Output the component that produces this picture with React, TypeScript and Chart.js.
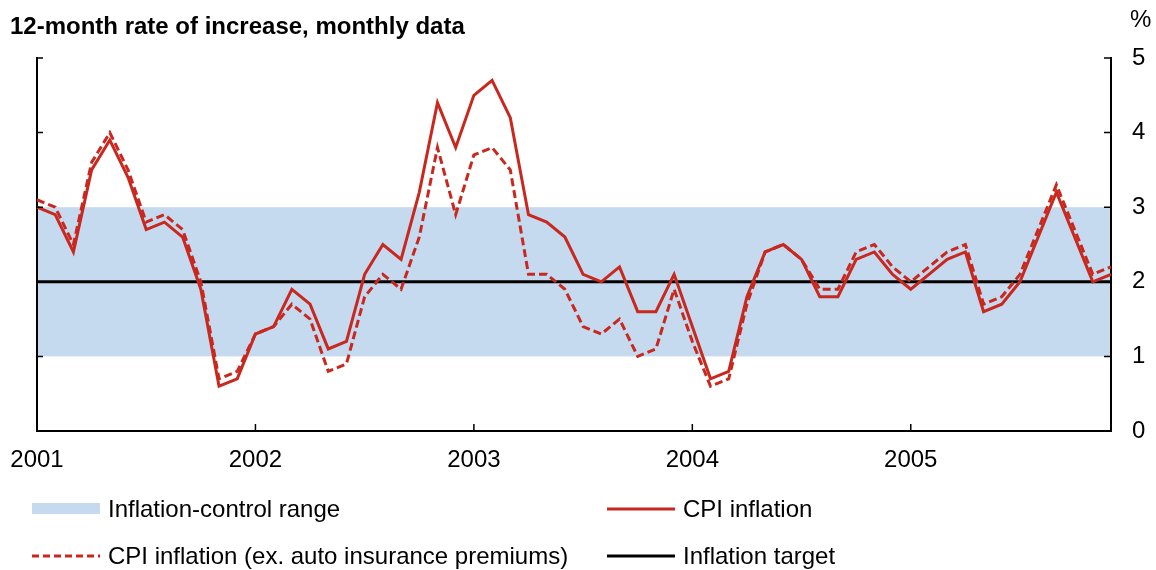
import React, { useEffect, useRef } from 'react';
import { Chart, registerables } from 'chart.js';

Chart.register(...registerables);

// ---------- data ----------
const YEARS = ['2001', '2002', '2003', '2004', '2005'];
const MONTHS = ['01', '02', '03', '04', '05', '06', '07', '08', '09', '10', '11', '12'];

// CPI inflation, 12-month rate, Jan 2001 - Dec 2005
const CPI = [
  3.0, 2.9, 2.4, 3.5, 3.9, 3.4, 2.7, 2.8, 2.6, 1.9, 0.6, 0.7,
  1.3, 1.4, 1.9, 1.7, 1.1, 1.2, 2.1, 2.5, 2.3, 3.2, 4.4, 3.8,
  4.5, 4.7, 4.2, 2.9, 2.8, 2.6, 2.1, 2.0, 2.2, 1.6, 1.6, 2.1,
  1.4, 0.7, 0.8, 1.8, 2.4, 2.5, 2.3, 1.8, 1.8, 2.3, 2.4, 2.1,
  1.9, 2.1, 2.3, 2.4, 1.6, 1.7, 2.0, 2.6, 3.2, 2.6, 2.0, 2.1,
];

// CPI inflation excluding auto insurance premiums
const CPI_EX_AUTO = [
  3.1, 3.0, 2.5, 3.6, 4.0, 3.5, 2.8, 2.9, 2.7, 2.0, 0.7, 0.8,
  1.3, 1.4, 1.7, 1.5, 0.8, 0.9, 1.8, 2.1, 1.9, 2.6, 3.8, 2.9,
  3.7, 3.8, 3.5, 2.1, 2.1, 1.9, 1.4, 1.3, 1.5, 1.0, 1.1, 1.9,
  1.2, 0.6, 0.7, 1.7, 2.4, 2.5, 2.3, 1.9, 1.9, 2.4, 2.5, 2.2,
  2.0, 2.2, 2.4, 2.5, 1.7, 1.8, 2.1, 2.7, 3.3, 2.7, 2.1, 2.2,
];

const Y_MIN = 0;
const Y_MAX = 5;
const BAND_LOW = 1;
const BAND_HIGH = 3;
const TARGET = 2;

const TITLE = '12-month rate of increase, monthly data';
const UNIT = '%';
const LEGEND_BAND = 'Inflation-control range';
const LEGEND_CPI = 'CPI inflation';
const LEGEND_CPI_EX = 'CPI inflation (ex. auto insurance premiums)';
const LEGEND_TARGET = 'Inflation target';

// ---------- styles ----------
const RED = '#C8281E';
const BLUE = '#C5D9EF';
const BLACK = '#000000';
const FONT = '"Liberation Sans", Arial, Helvetica, sans-serif';

const W = 1156;
const H = 570;

const decorPlugin = {
  id: 'decor',
  beforeDraw(chart: any) {
    const { ctx, chartArea } = chart;
    const y = chart.scales.y;
    const top = y.getPixelForValue(BAND_HIGH);
    const bot = y.getPixelForValue(BAND_LOW);
    ctx.save();
    ctx.fillStyle = BLUE;
    ctx.fillRect(chartArea.left, top, chartArea.right - chartArea.left, bot - top);
    ctx.restore();
  },
  beforeDatasetsDraw(chart: any) {
    const { ctx, chartArea } = chart;
    const y = chart.scales.y;
    const py = y.getPixelForValue(TARGET);
    ctx.save();
    ctx.strokeStyle = BLACK;
    ctx.lineWidth = 3;
    ctx.beginPath();
    ctx.moveTo(chartArea.left, py);
    ctx.lineTo(chartArea.right, py);
    ctx.stroke();
    ctx.restore();
  },
  afterDraw(chart: any) {
    const { ctx, chartArea } = chart;
    const x = chart.scales.x;
    const y = chart.scales.y;
    ctx.save();
    ctx.strokeStyle = BLACK;
    ctx.lineWidth = 1.5;
    ctx.beginPath();
    const labels: string[] = chart.data.labels;
    labels.forEach((l, i) => {
      if (l.endsWith('-01')) {
        const px = x.getPixelForValue(i);
        ctx.moveTo(px, chartArea.bottom);
        ctx.lineTo(px, chartArea.bottom - 7);
      }
    });
    for (let v = Y_MIN; v <= Y_MAX; v++) {
      const py = y.getPixelForValue(v);
      ctx.moveTo(chartArea.left, py);
      ctx.lineTo(chartArea.left + 6, py);
      ctx.moveTo(chartArea.right, py);
      ctx.lineTo(chartArea.right - 7, py);
    }
    ctx.stroke();
    ctx.restore();
  },
};

function ChartCanvas() {
  const ref = useRef<HTMLCanvasElement | null>(null);
  useEffect(() => {
    if (!ref.current) return;
    const labels = YEARS.flatMap((yr) => MONTHS.map((m) => `${yr}-${m}`));
    const chart = new Chart(ref.current, {
      type: 'line',
      data: {
        labels,
        datasets: [
          {
            label: LEGEND_CPI,
            data: CPI,
            borderColor: RED,
            borderWidth: 3,
            pointRadius: 0,
            tension: 0,
            fill: false,
            yAxisID: 'y',
          },
          {
            label: LEGEND_CPI_EX,
            data: CPI_EX_AUTO,
            borderColor: RED,
            borderWidth: 3,
            borderDash: [8, 4],
            pointRadius: 0,
            tension: 0,
            fill: false,
            yAxisID: 'y',
          },
        ],
      },
      options: {
        animation: false,
        responsive: false,
        maintainAspectRatio: false,
        devicePixelRatio: 1,
        layout: { padding: { top: 58, left: 0, right: 0, bottom: 0 } },
        plugins: {
          legend: { display: false },
          title: { display: false },
          tooltip: { enabled: false },
        },
        scales: {
          x: {
            type: 'category',
            position: 'bottom',
            offset: false,
            grid: { display: false, drawTicks: false },
            border: { display: true, color: BLACK, width: 2 },
            ticks: {
              autoSkip: false,
              maxRotation: 0,
              minRotation: 0,
              padding: 15,
              color: BLACK,
              font: { family: FONT, size: 24 },
              callback: function (this: any, value: any) {
                const l = this.getLabelForValue(value) as string;
                return l.endsWith('-01') ? l.slice(0, 4) : '';
              },
            },
            afterFit: (s: any) => {
              s.height = H - 431;
              s.paddingLeft = 0;
              s.paddingRight = 0;
            },
          },
          yl: {
            type: 'linear',
            position: 'left',
            min: Y_MIN,
            max: Y_MAX,
            grid: { display: false, drawTicks: false },
            border: { display: true, color: BLACK, width: 2 },
            ticks: { display: false, stepSize: 1 },
            afterFit: (s: any) => {
              s.width = 37;
            },
          },
          y: {
            type: 'linear',
            position: 'right',
            min: Y_MIN,
            max: Y_MAX,
            grid: { display: false, drawTicks: false },
            border: { display: true, color: BLACK, width: 2 },
            ticks: {
              stepSize: 1,
              padding: 21,
              color: BLACK,
              font: { family: FONT, size: 24 },
            },
            afterFit: (s: any) => {
              s.width = W - 1111;
            },
          },
        },
      },
      plugins: [decorPlugin],
    } as any);
    return () => chart.destroy();
  }, []);
  return (
    <canvas
      ref={ref}
      width={W}
      height={H}
      style={{ position: 'absolute', left: 0, top: 0, width: W, height: H }}
    />
  );
}

const textStyle: React.CSSProperties = {
  position: 'absolute',
  fontFamily: FONT,
  fontSize: 24,
  lineHeight: '28px',
  color: BLACK,
  whiteSpace: 'nowrap',
};

function LineSwatch({ left, top, color, dash }: { left: number; top: number; color: string; dash?: string }) {
  return (
    <svg style={{ position: 'absolute', left, top: top - 3 }} width={68} height={6}>
      <line x1={0} y1={3} x2={68} y2={3} stroke={color} strokeWidth={3} strokeDasharray={dash} />
    </svg>
  );
}

export default function App() {
  useEffect(() => {
    document.body.style.margin = '0';
  }, []);
  return (
    <div style={{ position: 'relative', width: W, height: H, background: '#fff', overflow: 'hidden' }}>
      <ChartCanvas />
      <div style={{ ...textStyle, left: 10, top: 12, fontWeight: 'bold' }}>{TITLE}</div>
      <div style={{ ...textStyle, left: 1130, top: 5 }}>{UNIT}</div>

      {/* legend row 1 */}
      <div style={{ position: 'absolute', left: 32, top: 503, width: 68, height: 11, background: BLUE }} />
      <div style={{ ...textStyle, left: 108, top: 495 }}>{LEGEND_BAND}</div>
      <LineSwatch left={607} top={509} color={RED} />
      <div style={{ ...textStyle, left: 683, top: 495 }}>{LEGEND_CPI}</div>

      {/* legend row 2 */}
      <LineSwatch left={32} top={556} color={RED} dash="7 4" />
      <div style={{ ...textStyle, left: 108, top: 542 }}>{LEGEND_CPI_EX}</div>
      <LineSwatch left={607} top={556} color={BLACK} />
      <div style={{ ...textStyle, left: 683, top: 542 }}>{LEGEND_TARGET}</div>
    </div>
  );
}
